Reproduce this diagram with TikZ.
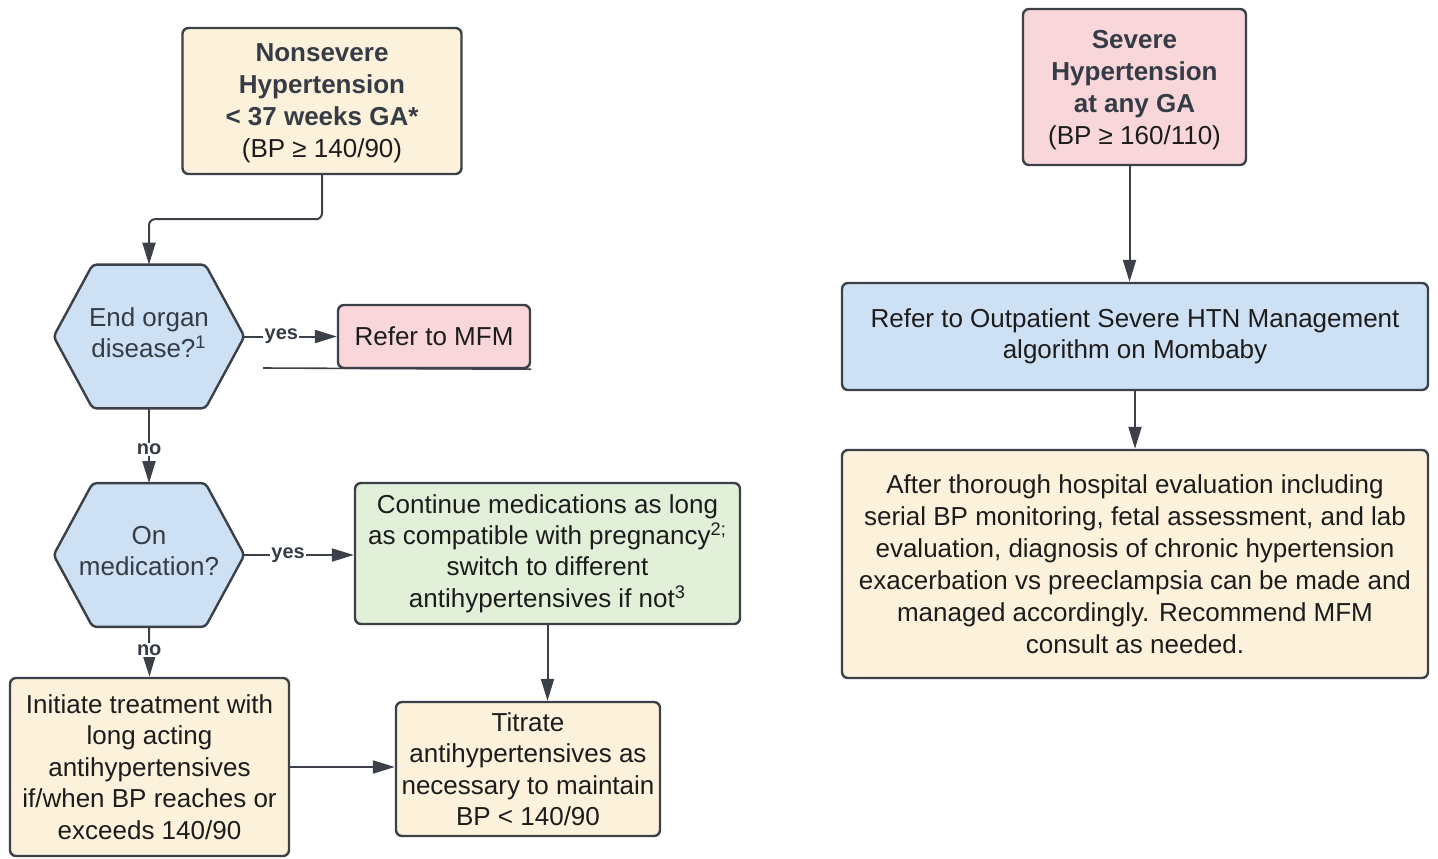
\documentclass[tikz,border=0pt]{standalone}
\usepackage{fontspec}
\setmainfont{Liberation Sans}
\usetikzlibrary{arrows.meta,backgrounds,calc}
\definecolor{edge}{HTML}{3B4049}
\definecolor{cream}{HTML}{FCF2DB}
\definecolor{rose}{HTML}{F9D6DA}
\definecolor{sky}{HTML}{CEE0F4}
\definecolor{mint}{HTML}{E2EFD9}
\definecolor{ink}{HTML}{1C1C1C}
\definecolor{slate}{HTML}{353C45}
\newcommand{\bodyfont}{\fontsize{13}{15.7}\selectfont}
\newcommand{\head}[1]{{\color{slate}\bfseries #1}}
\newcommand{\hexbox}[1]{%
  \filldraw[hexline] (#1.west) -- ([xshift=19.5pt]#1.north west)
    -- ([xshift=-19.5pt]#1.north east) -- (#1.east)
    -- ([xshift=-19.5pt]#1.south east) -- ([xshift=19.5pt]#1.south west) -- cycle;}
\tikzset{
  box/.style={draw=edge, line width=1.2pt, rounded corners=3pt, align=center,
    text=ink, font=\bodyfont, inner sep=2pt},
  hexq/.style={align=center, text=slate, font=\bodyfont,
    minimum width=95pt, minimum height=71.5pt},
  hexline/.style={draw=edge, fill=sky, line width=1.2pt, rounded corners=2pt},
  conn/.style={draw=edge, line width=1pt, -{Triangle[length=11pt,width=6.5pt]}},
  lbl/.style={font=\fontsize{10}{12}\selectfont\bfseries, text=slate,
    fill=white, inner sep=0.6pt}
}

\begin{document}
\begin{tikzpicture}[x=0.5pt,y=-0.5pt]
   \useasboundingbox (0,0) rectangle (1438,858);
   % left column
   \node[box, fill=cream, minimum width=139.5pt, minimum height=73pt,
     font=\fontsize{13}{16}\selectfont, text depth=-6pt] (nonsev) at (322,101)
     {\head{Nonsevere}\\\head{Hypertension}\\\head{< 37 weeks GA*}\\(BP ≥ 140/90)};
   \node[hexq] (organ) at (149,336.5) {End organ\\disease?\textsuperscript{1}\\[-11.5pt]};
   \node[hexq] (med) at (149,555) {On\\medication?\\[-11.5pt]};
   \begin{scope}[on background layer]
     \hexbox{organ}
     \hexbox{med}
   \end{scope}
   \node[box, fill=rose, minimum width=96pt, minimum height=31.5pt] (mfm) at (434,336.5)
     {Refer to MFM};
   \node[box, fill=mint, minimum width=192.5pt, minimum height=70.5pt] (cont) at (547.5,553.5)
     {Continue medications as long\\as compatible with pregnancy\textsuperscript{2;}\\switch to different\\antihypertensives if not\textsuperscript{3}};
   \node[box, fill=cream, minimum width=139.5pt, minimum height=89pt] (init) at (149.5,767)
     {Initiate treatment with\\long acting\\antihypertensives\\if/when BP reaches or\\exceeds 140/90};
   \node[box, fill=cream, minimum width=132pt, minimum height=67pt] (titr) at (528,769)
     {Titrate\\antihypertensives as\\necessary to maintain\\BP < 140/90};
   \coordinate (mfmtail) at (263,368);
   \draw[conn, rounded corners=3pt] (nonsev.south) -- ++(0,44) -| (organ.north);
   \draw[conn] (organ.east) -- node[lbl, pos=0.4] {yes} (mfm.west);
   \draw[draw=edge, line width=0.8pt] (mfmtail) -- (mfm.south east);
   \draw[conn] (organ.south) -- node[lbl, pos=0.55] {no} (med.north);
   \draw[conn] (med.east) -- node[lbl, pos=0.4] {yes} (med.east -| cont.west);
   \draw[conn] (med.south) -- node[lbl, pos=0.46] {no} (init.north);
   \draw[conn] (cont.south) -- (cont.south |- titr.north);
   \draw[conn] (init.east) -- (init.east -| titr.west);
   % right column
   \node[box, fill=rose, minimum width=111.5pt, minimum height=78pt,
     font=\fontsize{13}{16}\selectfont, text depth=-0.5pt] (severe) at (1134.5,87)
     {\head{Severe}\\\head{Hypertension}\\\head{at any GA}\\(BP ≥ 160/110)};
   \node[box, fill=sky, minimum width=293pt, minimum height=53.5pt] (outpt) at (1135,336.5)
     {Refer to Outpatient Severe HTN Management\\algorithm on Mombaby};
   \node[box, fill=cream, minimum width=293pt, minimum height=114pt, font=\fontsize{13}{16}\selectfont] (after) at (1135,564)
     {After thorough hospital evaluation including\\serial BP monitoring, fetal assessment, and lab\\evaluation, diagnosis of chronic hypertension\\exacerbation vs preeclampsia can be made and\\managed accordingly. Recommend MFM\\consult as needed.};
   \draw[conn] ([xshift=-2.5pt]severe.south) -- ([xshift=-2.5pt]severe.south |- outpt.north);
   \draw[conn] (outpt.south) -- (after.north);
\end{tikzpicture}
\end{document}
